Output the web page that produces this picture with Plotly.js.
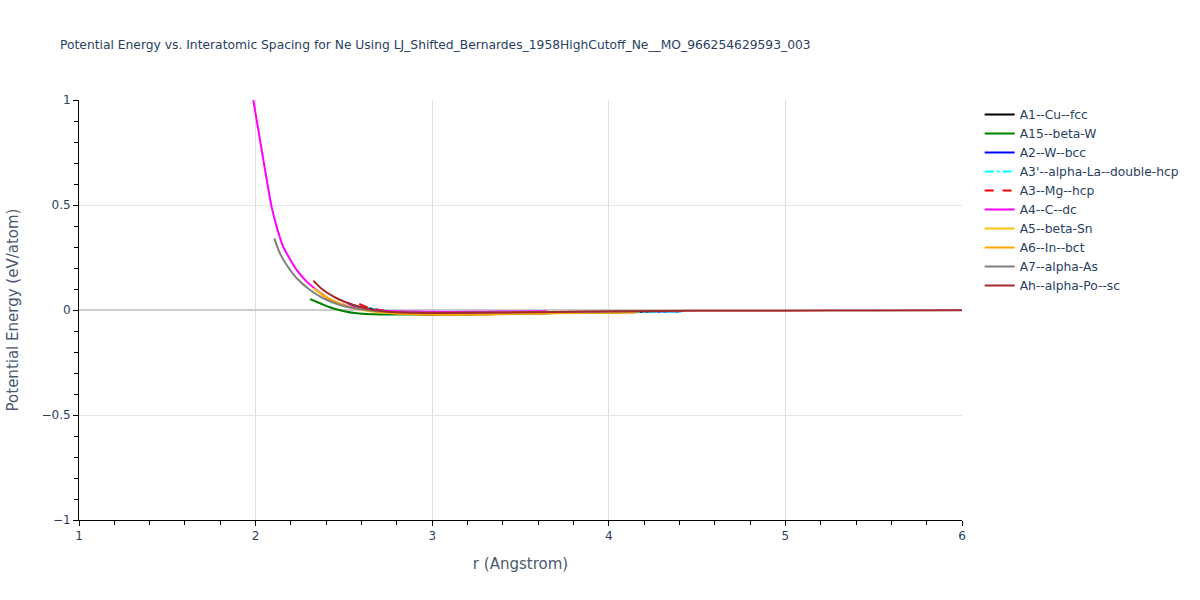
<!DOCTYPE html>
<html>
<head>
<meta charset="utf-8">
<script src="https://cdn.plot.ly/plotly-3.0.1.min.js"></script>
<style>html,body{margin:0;padding:0;background:#fff;}#chart{width:1200px;height:600px;}</style>
</head>
<body>
<div id="chart"></div>
<script>
const names = ["A1--Cu--fcc","A15--beta-W","A2--W--bcc","A3'--alpha-La--double-hcp","A3--Mg--hcp","A4--C--dc","A5--beta-Sn","A6--In--bct","A7--alpha-As","Ah--alpha-Po--sc"];
const colors = ["black","green","blue","cyan","red","magenta","#f7c20c","orange","grey","brown"];
const dashes = ["solid","solid","solid","dashdot","dash","solid","solid","solid","solid","solid"];

const r_fcc = [2.6, 2.64, 2.7, 2.8, 2.95, 3.1, 3.3, 3.6, 3.9, 4.2];
const e_fcc = [0.022, 0.008, 0.0, -0.012, -0.02, -0.022, -0.02, -0.016, -0.012, -0.009];
const r_a15 = [2.308, 2.365, 2.42, 2.495, 2.572, 2.667, 2.8, 2.95, 3.1, 3.3, 3.6, 3.9, 4.2];
const e_a15 = [0.052, 0.032, 0.013, -0.005, -0.016, -0.02, -0.021, -0.021, -0.02, -0.017, -0.013, -0.01, -0.008];
const r_bcc = [2.525, 2.55, 2.6, 2.7, 2.8, 2.95, 3.1, 3.3, 3.6, 3.9, 4.2, 4.4];
const e_bcc = [0.032, 0.024, 0.011, -0.005, -0.014, -0.02, -0.021, -0.019, -0.015, -0.011, -0.008, -0.007];
const r_dhcp = [2.6, 2.64, 2.7, 2.8, 2.95, 3.1, 3.3, 3.6, 3.9, 4.2, 4.42];
const e_dhcp = [0.022, 0.009, 0.0, -0.012, -0.02, -0.022, -0.02, -0.016, -0.012, -0.009, -0.008];
const r_hcp = [2.587, 2.636, 2.7, 2.8, 2.95, 3.1, 3.3, 3.6, 3.9, 4.2];
const e_hcp = [0.029, 0.011, 0.0, -0.012, -0.02, -0.022, -0.02, -0.016, -0.012, -0.009];
const r_dc = [1.987, 2.025, 2.063, 2.091, 2.119, 2.157, 2.2, 2.233, 2.29, 2.346, 2.42, 2.515, 2.61, 2.7, 2.8, 2.95, 3.1, 3.3, 3.5, 3.65];
const e_dc = [1.0, 0.81, 0.62, 0.49, 0.397, 0.30, 0.235, 0.19, 0.135, 0.095, 0.052, 0.02, 0.006, -0.002, -0.006, -0.008, -0.009, -0.008, -0.007, -0.006];
const r_sn = [2.327, 2.383, 2.459, 2.553, 2.65, 2.75, 2.9, 3.05, 3.25, 3.5, 3.8, 4.1];
const e_sn = [0.103, 0.071, 0.037, 0.008, -0.006, -0.014, -0.019, -0.021, -0.02, -0.017, -0.013, -0.01];
const r_bct = [2.36, 2.42, 2.5, 2.6, 2.7, 2.85, 3.0, 3.2, 3.4, 3.7, 4.0, 4.16];
const e_bct = [0.085, 0.05, 0.022, 0.002, -0.01, -0.019, -0.022, -0.022, -0.02, -0.016, -0.013, -0.012];
const r_as = [2.106, 2.138, 2.176, 2.233, 2.308, 2.383, 2.478, 2.56, 2.65, 2.75, 2.9, 3.1, 3.3, 3.6, 3.9, 4.2, 4.42];
const e_as = [0.341, 0.27, 0.214, 0.151, 0.095, 0.056, 0.024, 0.008, -0.002, -0.008, -0.012, -0.013, -0.012, -0.01, -0.008, -0.006, -0.005];
const r_sc = [2.327, 2.383, 2.459, 2.553, 2.648, 2.75, 2.9, 3.05, 3.25, 3.5, 3.8, 4.1, 4.5, 5.0, 5.5, 6.0];
const e_sc = [0.14, 0.095, 0.056, 0.024, 0.003, -0.008, -0.013, -0.014, -0.013, -0.011, -0.008, -0.006, -0.004, -0.003, -0.002, -0.001];

const xs = [r_fcc, r_a15, r_bcc, r_dhcp, r_hcp, r_dc, r_sn, r_bct, r_as, r_sc];
const ys = [e_fcc, e_a15, e_bcc, e_dhcp, e_hcp, e_dc, e_sn, e_bct, e_as, e_sc];

const traces = names.map((n, i) => ({
  x: xs[i], y: ys[i], name: n, type: 'scatter', mode: 'lines',
  line: {color: colors[i], width: 2, dash: dashes[i], shape: 'spline'}
}));

const layout = {
  width: 1200, height: 600,
  paper_bgcolor: 'white', plot_bgcolor: 'white',
  font: {family: '"DejaVu Sans", Verdana, sans-serif', color: '#2a3f5f', size: 12},
  margin: {l: 79, r: 238, t: 100, b: 80},
  title: {text: 'Potential Energy vs. Interatomic Spacing for Ne Using LJ_Shifted_Bernardes_1958HighCutoff_Ne__MO_966254629593_003',
          x: 0.05, xanchor: 'left', y: 0.925, yanchor: 'middle', font: {size: 12.3}},
  xaxis: {range: [1, 6], title: {text: 'r (Angstrom)', font: {size: 15, color: '#4a5a70'}, standoff: 16},
          automargin: true,
          showline: true, linecolor: 'black', linewidth: 1, ticks: 'outside', tickcolor: 'black', ticklen: 5,
          dtick: 1, gridcolor: '#dddddd', zeroline: false,
          minor: {dtick: 0.2, ticks: 'outside', ticklen: 4, tickcolor: 'black', showgrid: false}},
  yaxis: {range: [-1, 1], title: {text: 'Potential Energy (eV/atom)', font: {size: 15, color: '#4a5a70'}, standoff: 19},
          automargin: true,
          showline: true, linecolor: 'black', linewidth: 1, ticks: 'outside', tickcolor: 'black', ticklen: 5,
          dtick: 0.5, gridcolor: '#e5e5e5', zeroline: true, zerolinecolor: '#cccccc', zerolinewidth: 2,
          minor: {dtick: 0.1, ticks: 'outside', ticklen: 4, tickcolor: 'black', showgrid: false}},
  legend: {x: 1.02, y: 1, xanchor: 'left', yanchor: 'top', font: {size: 12.3}, tracegroupgap: 0}
};

Plotly.newPlot('chart', traces, layout, {displayModeBar: false});
</script>
</body>
</html>
